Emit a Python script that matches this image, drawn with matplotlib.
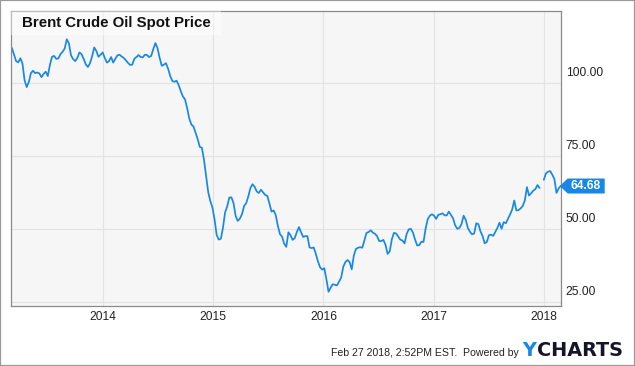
import numpy as np
import pandas as pd
import matplotlib
matplotlib.use("Agg")
import matplotlib.pyplot as plt
import matplotlib.dates as mdates
import matplotlib.transforms as mtransforms
from matplotlib.patches import Rectangle, Polygon

plt.rcParams['font.family'] = ['Liberation Sans', 'DejaVu Sans']

# ---------------- data ----------------
start_date = "2013-03-04"   # weekly observations
prices = [
    112.0, 109.8, 107.5, 107.1, 108.5, 106.7, 101.0, 98.6, 100.3, 103.4,
    104.2, 103.4, 103.6, 103.3, 102.0, 103.1, 103.9, 102.4, 106.2, 109.0,
    109.3, 108.3, 108.4, 109.9, 110.7, 111.8, 115.0, 113.6, 109.5, 108.2,
    107.5, 108.6, 110.5, 109.9, 108.3, 106.4, 105.5, 106.8, 109.2, 112.2,
    111.0, 109.0, 109.7, 110.5, 108.6, 107.0, 107.5, 108.9, 107.0, 108.3,
    109.5, 109.7, 109.1, 108.6, 107.8, 106.9, 106.2, 106.3, 108.3, 108.9,
    109.6, 108.9, 108.8, 109.7, 109.6, 108.9, 109.3, 111.7, 113.7, 111.9,
    108.6, 105.9, 106.3, 106.8, 104.9, 102.4, 100.7, 100.4, 100.8, 99.3,
    97.2, 95.4, 94.4, 91.5, 87.9, 85.8, 85.1, 83.0, 80.8, 78.1,
    77.8, 73.7, 68.1, 62.6, 59.5, 57.3, 53.3, 47.9, 46.3, 46.6,
    50.4, 55.6, 57.7, 60.7, 60.8, 58.8, 54.4, 52.7, 53.5, 55.0,
    57.8, 58.8, 61.1, 64.0, 65.3, 64.4, 62.8, 62.3, 63.4, 62.5,
    61.6, 61.3, 58.7, 55.9, 56.3, 54.7, 51.0, 48.2, 47.3, 44.9,
    43.8, 48.8, 47.8, 46.2, 46.8, 48.9, 50.6, 48.8, 47.2, 47.5,
    47.5, 43.6, 43.4, 43.6, 41.4, 38.8, 36.8, 36.0, 36.5, 32.7,
    28.4, 29.8, 31.0, 30.8, 30.6, 31.9, 33.3, 37.0, 38.6, 39.3,
    38.6, 36.1, 40.9, 43.1, 43.5, 43.7, 43.5, 46.0, 48.6, 48.9,
    49.5, 48.7, 48.3, 47.5, 45.8, 45.8, 46.2, 44.5, 41.4, 42.3,
    46.4, 48.6, 48.4, 47.4, 46.3, 46.0, 45.0, 48.2, 49.8, 50.0,
    48.7, 46.3, 44.3, 44.4, 45.6, 45.5, 50.1, 53.3, 54.5, 55.0,
    54.5, 53.4, 54.8, 55.0, 55.3, 54.6, 54.6, 55.9, 54.8, 53.6,
    51.2, 50.0, 50.3, 51.6, 54.5, 53.1, 50.3, 49.0, 48.1, 48.4,
    51.9, 51.6, 49.1, 47.5, 45.0, 45.5, 47.8, 48.0, 47.6, 48.9,
    50.3, 52.1, 50.0, 52.3, 51.9, 53.4, 54.9, 56.6, 59.7, 56.3,
    56.4, 57.0, 57.8, 59.7, 64.3, 61.4, 62.2, 63.1, 63.6, 65.0,
    64.0, np.nan, 66.8, 69.0, 69.6, 69.8, 68.6, 67.1, 62.3, 63.8, 64.68,
]
last_label = "64.68"
y_ticks = [25, 50, 75, 100]
y_tick_labels = ["25.00", "50.00", "75.00", "100.00"]
x_ticks = ["2014-01-01", "2015-01-01", "2016-01-01", "2017-01-01", "2018-01-01"]
x_tick_labels = ["2014", "2015", "2016", "2017", "2018"]
x_range = ["2013-02-28", "2018-02-26"]
y_range = [23.63, 124.8]
title = "Brent Crude Oil Spot Price"
footer = "Feb 27 2018, 2:52PM EST.  Powered by"

dates = pd.date_range(start_date, periods=len(prices), freq="7D")

# ---------------- figure ----------------
W, H = 635, 366
DPI = 100
fig = plt.figure(figsize=(W / DPI, H / DPI), dpi=DPI)
fig.patch.set_facecolor("white")

ax = fig.add_axes([10.7 / W, 1 - 305.7 / H, 550 / W, 295 / H])
ax.set_facecolor("#f6f6f6")

line_color = "#1788e8"
ax.plot(dates, prices, color=line_color, lw=1.25, solid_joinstyle="round",
        solid_capstyle="round", zorder=2)

ax.set_xlim(pd.Timestamp(x_range[0]), pd.Timestamp(x_range[1]))
ax.set_ylim(*y_range)

ax.set_yticks(y_ticks)
ax.set_yticklabels([])
ax.tick_params(axis="y", length=0, left=False, right=False, labelleft=False)
ax.set_xticks(pd.to_datetime(x_ticks))
ax.set_xticklabels(x_tick_labels)
ax.tick_params(axis="x", length=0, pad=3.5, labelsize=8.64, colors="#222222")

ax.grid(True, color="#e3e3e3", lw=0.8)
ax.set_axisbelow(True)
for s in ax.spines.values():
    s.set_color("#8a8a8a")
    s.set_linewidth(0.9)

# y tick labels, placed above gridlines on the right
blend = mtransforms.blended_transform_factory(ax.transAxes, ax.transData)
off = mtransforms.ScaledTranslation(5 / DPI, 10 / DPI, fig.dpi_scale_trans)
for v, lab in zip(y_ticks, y_tick_labels):
    ax.text(1, v, lab, transform=blend + off, ha="left", va="center",
            fontsize=8.64, color="#222222", clip_on=False)

# title box
ax.add_patch(Rectangle((0, 1 - 24.3 / 295), 210 / 550, 24.3 / 295,
                       transform=ax.transAxes, fc="white", alpha=0.45,
                       ec="none", zorder=3))
ax.text(11 / 550, 1 - 12.8 / 295, title, transform=ax.transAxes,
        ha="left", va="center", fontsize=10.8, fontweight="bold",
        color="#111111", zorder=4)

# last value tag
tip = ax.transData.transform((mdates.date2num(dates[-1]), prices[-1]))
tx, ty = tip[0] - 1, tip[1]
poly = Polygon([(tx, ty), (tx + 8, ty + 7.5), (tx + 45, ty + 7.5),
                (tx + 45, ty - 7.5), (tx + 8, ty - 7.5)], closed=True,
               fc=line_color, ec="none", transform=mtransforms.IdentityTransform())
fig.add_artist(poly)
fig.text(tx + 25.5, ty, last_label, transform=mtransforms.IdentityTransform(),
         ha="center", va="center", fontsize=8.64, fontweight="bold",
         color="white")

# footer
fig.text(330.7 / W, 1 - 353.3 / H, footer, ha="left", va="center",
         fontsize=7.6, color="#222222")
ty_ = fig.text(522.7 / W, 1 - 356.3 / H, "Y", ha="left", va="baseline",
               fontsize=13.9, fontweight="bold", color="#1788e8",
               family=["DejaVu Sans"])
fig.canvas.draw()
bb = ty_.get_window_extent(fig.canvas.get_renderer())
fig.text((bb.x1 + 0.5) / W, 1 - 356.3 / H, "CHARTS", ha="left", va="baseline",
         fontsize=13.9, fontweight="bold", color="#14142b",
         family=["DejaVu Sans"])

# outer border
fig.add_artist(Rectangle((0, 0), 1, 1, transform=fig.transFigure, fill=False,
                         ec="#9a9a9a", lw=1.6))

fig.savefig("out.png", dpi=DPI)
